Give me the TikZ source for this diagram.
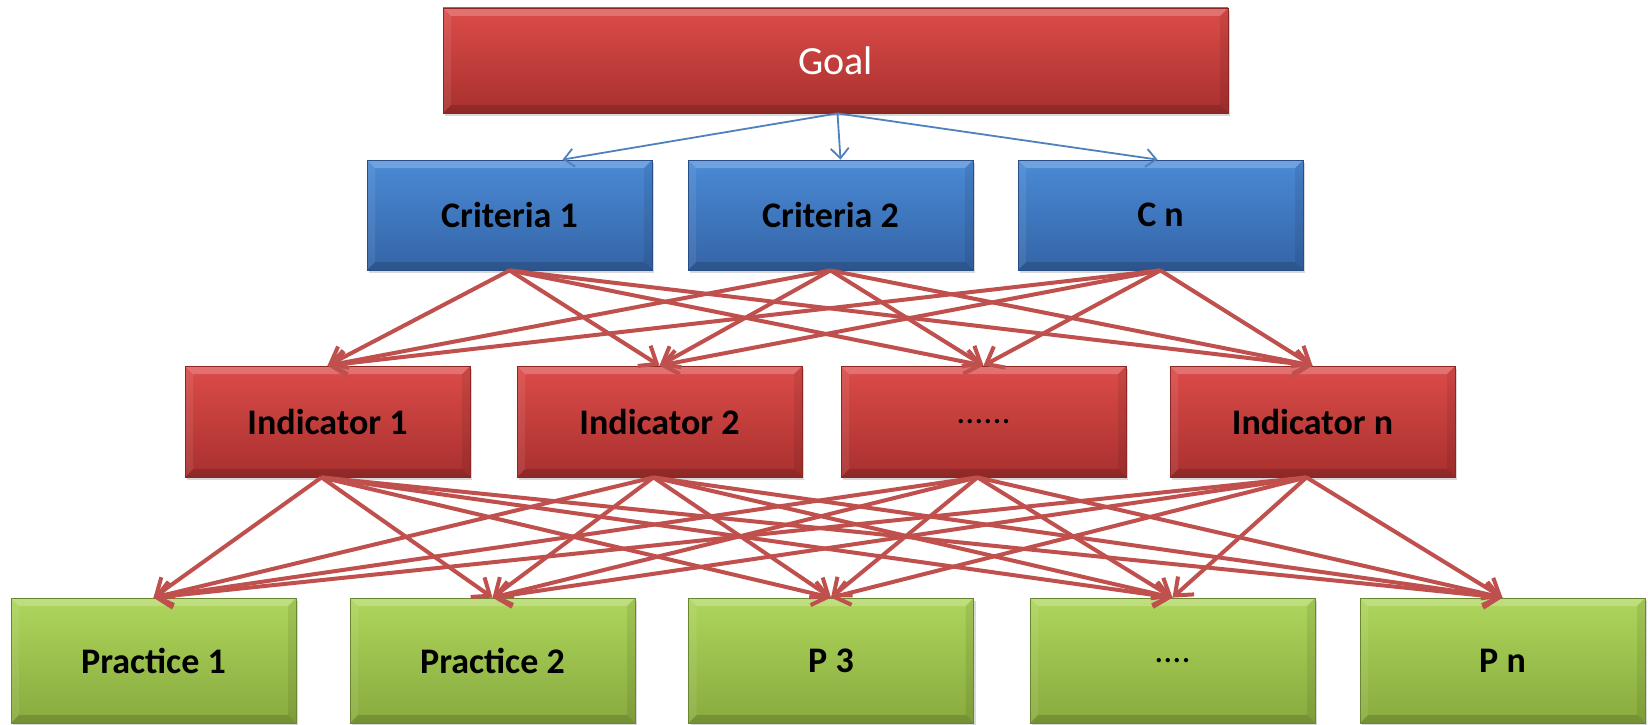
\documentclass[tikz,border=0pt]{standalone}
\usepackage{fontspec}
\setmainfont{Carlito}
\usetikzlibrary{arrows.meta,shadows,calc}
\definecolor{redtop}{RGB}{220,76,73}
\definecolor{redbot}{RGB}{168,48,46}
\definecolor{redline}{RGB}{140,38,36}
\definecolor{bluetop}{RGB}{74,138,214}
\definecolor{bluebot}{RGB}{52,100,166}
\definecolor{blueline}{RGB}{40,78,135}
\definecolor{greentop}{RGB}{174,214,92}
\definecolor{greenbot}{RGB}{136,170,62}
\definecolor{greenline}{RGB}{105,135,48}
\definecolor{arrred}{RGB}{192,80,77}
\definecolor{arrblue}{RGB}{79,129,189}
\tikzset{
  boxbase/.style={rectangle, inner sep=0pt, minimum width=285pt, line width=0.8pt,
    font=\fontsize{36}{40}\selectfont\bfseries, text=black,
    drop shadow={shadow xshift=2pt, shadow yshift=-3pt, opacity=0.3},
    path picture={
      \fill[white,opacity=0.22] (path picture bounding box.north west) -- (path picture bounding box.north east)
        -- ([shift={(-8pt,-8pt)}]path picture bounding box.north east) -- ([shift={(8pt,-8pt)}]path picture bounding box.north west) -- cycle;
      \fill[black,opacity=0.15] (path picture bounding box.south west) -- (path picture bounding box.south east)
        -- ([shift={(-8pt,8pt)}]path picture bounding box.south east) -- ([shift={(8pt,8pt)}]path picture bounding box.south west) -- cycle;
      \fill[black,opacity=0.08] (path picture bounding box.north east) -- (path picture bounding box.south east)
        -- ([shift={(-8pt,8pt)}]path picture bounding box.south east) -- ([shift={(-8pt,-8pt)}]path picture bounding box.north east) -- cycle;
      \fill[white,opacity=0.08] (path picture bounding box.north west) -- (path picture bounding box.south west)
        -- ([shift={(8pt,8pt)}]path picture bounding box.south west) -- ([shift={(8pt,-8pt)}]path picture bounding box.north west) -- cycle;
    }},
  redbox/.style={boxbase, draw=redline, top color=redtop, bottom color=redbot},
  bluebox/.style={boxbase, draw=blueline, top color=bluetop, bottom color=bluebot, minimum height=110pt},
  greenbox/.style={boxbase, draw=greenline, top color=greentop, bottom color=greenbot, minimum height=125pt},
  indbox/.style={redbox, minimum height=111pt},
  goalbox/.style={redbox, minimum width=785pt, minimum height=105pt,
    font=\fontsize{40}{44}\selectfont, text=white},
  redarrow/.style={draw=arrred, line width=4pt, -{Straight Barb[length=15pt,width=24pt]}},
  bluearrow/.style={draw=arrblue, line width=1.8pt, -{Straight Barb[length=10pt,width=18pt]}}
}
\begin{document}
\begin{tikzpicture}[x=1pt,y=-1pt]
\fill[white] (0,0) rectangle (1648,725);
\useasboundingbox (0,0) rectangle (1648,725);

\node[goalbox] (g) at (835.5,60.5) {Goal};

\node[bluebox] (c1) at (509.5,215) {Criteria 1};
\node[bluebox] (c2) at (830.5,215) {Criteria 2};
\node[bluebox] (c3) at (1160.5,215) {C n};

\node[indbox] (i1) at (327.5,421.5) {Indicator 1};
\node[indbox] (i2) at (659.5,421.5) {Indicator 2};
\node[indbox] (i3) at (983.5,421.5) {\textmd{......}};
\node[indbox] (i4) at (1312.5,421.5) {Indicator n};

\node[greenbox] (p1) at (153.5,660.5) {Practice 1};
\node[greenbox] (p2) at (492.5,660.5) {Practice 2};
\node[greenbox] (p3) at (831,660.5) {P 3};
\node[greenbox] (p4) at (1172.5,660.5) {\textmd{....}};
\node[greenbox] (p5) at (1502.5,660.5) {P n};

\draw[bluearrow] ([xshift=2pt]g.south) -- ([xshift=53pt]c1.north);
\draw[bluearrow] ([xshift=2pt]g.south) -- ([xshift=10pt]c2.north);
\draw[bluearrow] ([xshift=2pt]g.south) -- ([xshift=-3pt]c3.north);

\foreach \s in {c1,c2,c3}
  \foreach \t in {i1,i2,i3,i4}
    \draw[redarrow] (\s.south) -- (\t.north);

\foreach \s in {i1,i2,i3,i4}
  \foreach \t in {p1,p2,p3,p4,p5}
    \draw[redarrow] ([xshift=-6pt]\s.south) -- (\t.north);
\end{tikzpicture}
\end{document}
